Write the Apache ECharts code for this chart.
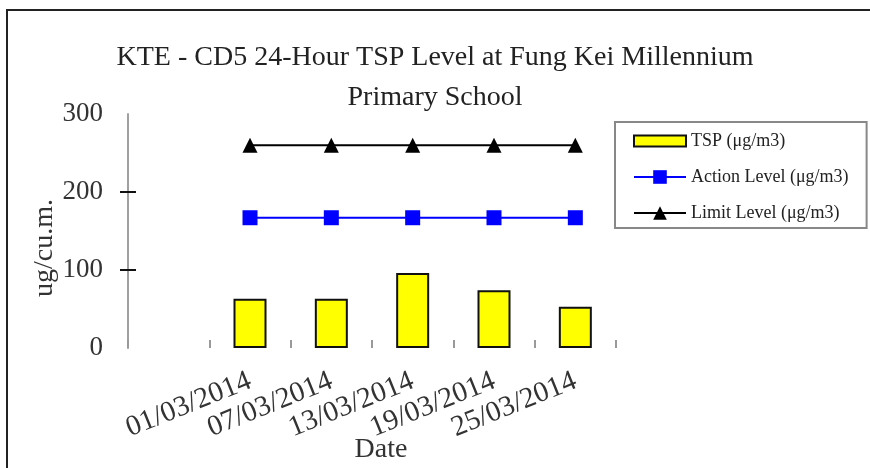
<!DOCTYPE html>
<html>
<head>
<meta charset="utf-8">
<script src="https://cdn.jsdelivr.net/npm/echarts@6/dist/echarts.min.js"></script>
<style>
html,body{margin:0;padding:0;background:#fff;}
#chart{width:870px;height:468px;}
</style>
</head>
<body>
<div id="chart"></div>
<script>
var categories = ['', '01/03/2014', '07/03/2014', '13/03/2014', '19/03/2014', '25/03/2014'];
var tspValues = [null, 63, 63, 96, 74, 53];
var actionLevel = [null, 167, 167, 167, 167, 167];
var limitLevel = [null, 260, 260, 260, 260, 260];
var yTicks = [0, 100, 200, 300];

var FONT = '"Liberation Serif", "Times New Roman", serif';
var chart = echarts.init(document.getElementById('chart'));
chart.setOption({
  backgroundColor: '#fff',
  animation: false,
  title: {
    text: 'KTE - CD5 24-Hour TSP Level at Fung Kei Millennium\nPrimary School',
    left: 'center',
    top: 33,
    textStyle: {fontFamily: FONT, fontSize: 28, fontWeight: 'normal', color: '#222', lineHeight: 40}
  },
  legend: {
    orient: 'vertical',
    left: 615,
    top: 122,
    padding: [10, 18, 6, 18],
    itemGap: 18,
    itemWidth: 52,
    itemHeight: 17,
    borderColor: '#888',
    borderWidth: 2,
    textStyle: {fontFamily: FONT, fontSize: 18, color: '#222'},
    data: [
      {name: 'TSP (μg/m3)', icon: 'path://M0,0 L52,0 L52,11 L0,11 Z'},
      {name: 'Action Level (μg/m3)'},
      {name: 'Limit Level (μg/m3)'}
    ]
  },
  grid: {left: 128, right: 254, top: 114, bottom: 120, outerBoundsMode: 'none', containLabel: false},
  xAxis: {
    type: 'category',
    data: categories,
    boundaryGap: true,
    name: 'Date',
    nameLocation: 'middle',
    nameGap: 88,
    nameMoveOverlap: false,
    nameTextStyle: {fontFamily: FONT, fontSize: 28, color: '#333', padding: [0, 0, 0, 18]},
    axisLine: {show: false},
    axisTick: {show: true, inside: true, length: 8, lineStyle: {color: '#999', width: 2}},
    axisLabel: {rotate: 22, margin: 32, fontFamily: FONT, fontSize: 29, color: '#333', interval: 0}
  },
  yAxis: [{
    type: 'value',
    min: 0,
    max: 300,
    interval: 100,
    axisLine: {show: true, lineStyle: {color: '#a0a0a0', width: 2}},
    axisTick: {show: true, length: 8, customValues: [100, 200], lineStyle: {color: '#111', width: 2}},
    axisLabel: {margin: 25, fontFamily: FONT, fontSize: 27, color: '#333', customValues: yTicks},
    splitLine: {show: false}
  }, {
    type: 'value',
    min: 0,
    max: 300,
    interval: 100,
    position: 'left',
    axisLine: {show: false},
    axisTick: {show: true, inside: true, length: 8, customValues: [100, 200], lineStyle: {color: '#111', width: 2}},
    axisLabel: {show: false},
    splitLine: {show: false}
  }],
  graphic: [
    {type: 'rect', shape: {x: 7, y: 10, width: 900, height: 500}, style: {fill: 'none', stroke: '#222', lineWidth: 2}, silent: true},
    {type: 'text', x: 45, y: 248, rotation: Math.PI / 2,
     style: {text: 'ug/cu.m.', font: '28px ' + FONT, fill: '#333', textAlign: 'center', textVerticalAlign: 'middle', align: 'center', verticalAlign: 'middle'}}
  ],
  series: [
    {
      name: 'TSP (μg/m3)',
      type: 'bar',
      data: tspValues,
      barWidth: 33,
      itemStyle: {color: '#ffff00', borderColor: '#111', borderWidth: 2}
    },
    {
      name: 'Action Level (μg/m3)',
      type: 'line',
      data: actionLevel,
      symbol: 'rect',
      symbolSize: 15,
      lineStyle: {color: '#0000ff', width: 2},
      itemStyle: {color: '#0000ff'}
    },
    {
      name: 'Limit Level (μg/m3)',
      type: 'line',
      data: limitLevel,
      symbol: 'triangle',
      symbolSize: 15,
      lineStyle: {color: '#000', width: 2},
      itemStyle: {color: '#000'}
    }
  ]
});
</script>
</body>
</html>
